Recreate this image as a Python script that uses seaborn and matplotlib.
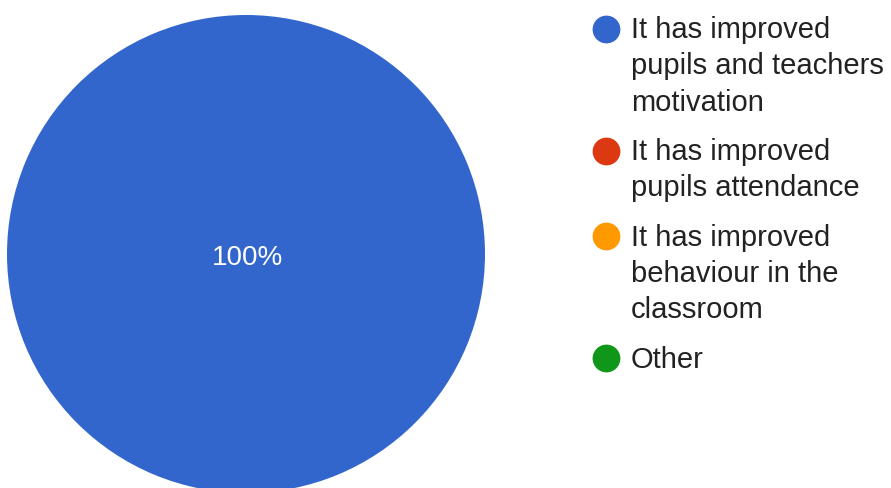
import matplotlib
matplotlib.use("Agg")
import matplotlib.pyplot as plt
import seaborn as sns

# data
categories = ["It has improved\npupils and teachers\nmotivation",
              "It has improved\npupils attendance",
              "It has improved\nbehaviour in the\nclassroom",
              "Other"]
shares = [100, 0, 0, 0]
colours = ["#3366CC", "#DC3912", "#FF9900", "#109618"]

sns.set_style("white")
plt.rcParams['font.family'] = ['Liberation Sans', 'DejaVu Sans']
palette = sns.color_palette(colours)

W, H = 891, 488
fig = plt.figure(figsize=(W / 100, H / 100), dpi=100)
ax = fig.add_axes([0, 0, 1, 1])

# pie (only non-empty wedges are drawn, like the original)
cx, cy, r = 246, 254, 239
vals = [v for v in shares if v > 0]
cols = [palette[i] for i, v in enumerate(shares) if v > 0]
ax.pie(vals, colors=cols, center=(cx, cy), radius=r, startangle=90,
       counterclock=False, wedgeprops=dict(linewidth=0))
total = sum(shares)
ax.text(cx + 1, cy + 11, f"{100 * vals[0] / total:.0f}%", color="white", fontsize=20,
        ha="center", va="baseline")

# legend drawn by hand
x_dot, x_txt = 606, 631
base = 38
line_h = 36.5
gap = 49
for lab, col in zip(categories, palette):
    lines = lab.split("\n")
    ax.scatter([x_dot], [base - 9.5], s=400, color=col, linewidths=0)
    for i, ln in enumerate(lines):
        ax.text(x_txt, base + i * line_h, ln, fontsize=21, color="#222222",
                ha="left", va="baseline")
    base += (len(lines) - 1) * line_h + gap

ax.set_aspect("auto")
ax.set_xlim(0, W)
ax.set_ylim(H, 0)
ax.axis("off")

fig.savefig("out.png", dpi=100)
